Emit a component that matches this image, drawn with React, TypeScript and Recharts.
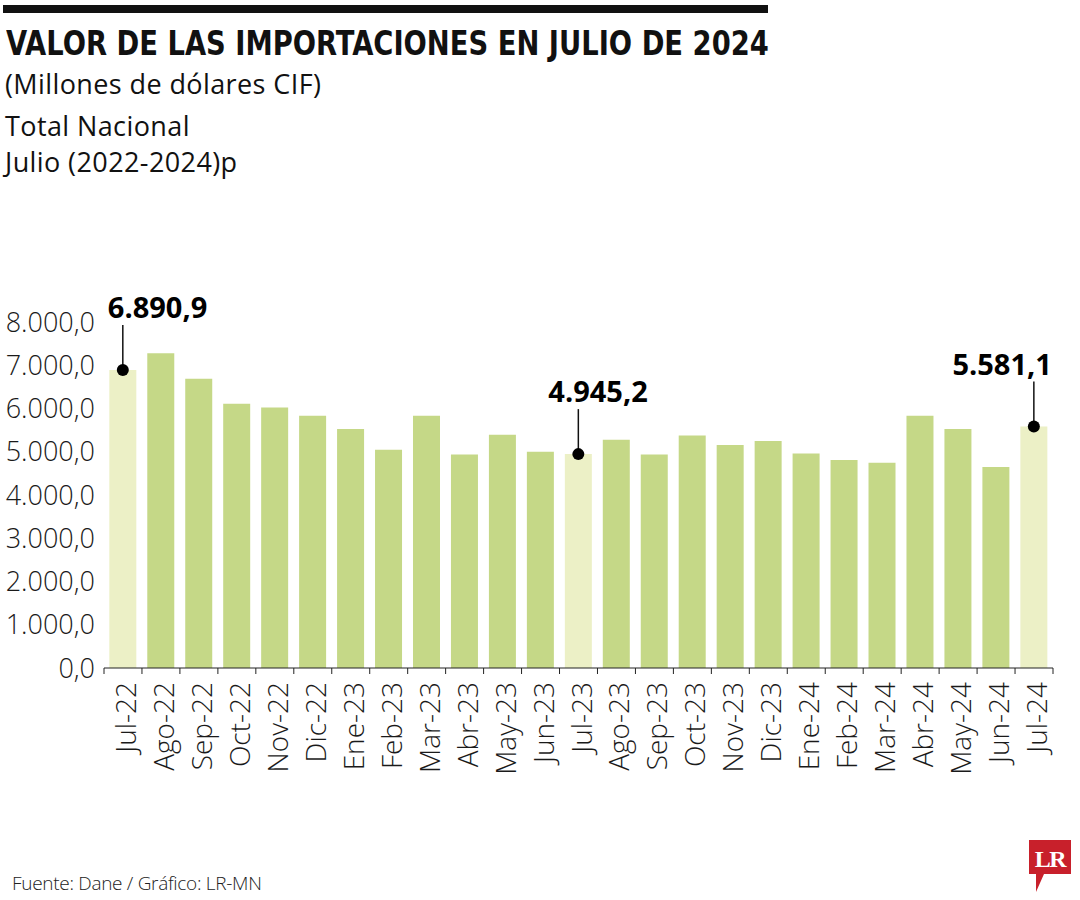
import { BarChart, Bar, XAxis, YAxis, Cell, LabelList } from 'recharts';

// ---------------------------------------------------------------------------
// Data
// ---------------------------------------------------------------------------

const months = [
  'Jul-22', 'Ago-22', 'Sep-22', 'Oct-22', 'Nov-22', 'Dic-22', 'Ene-23',
  'Feb-23', 'Mar-23', 'Abr-23', 'May-23', 'Jun-23', 'Jul-23', 'Ago-23',
  'Sep-23', 'Oct-23', 'Nov-23', 'Dic-23', 'Ene-24', 'Feb-24', 'Mar-24',
  'Abr-24', 'May-24', 'Jun-24', 'Jul-24',
];

const imports = [
  6890.9, 7280, 6690, 6110, 6025, 5833, 5525,
  5046, 5833, 4938, 5394, 5000, 4945.2, 5278,
  4938, 5377, 5155, 5248, 4961, 4808, 4745,
  5833, 5525, 4645, 5581.1,
];

const highlighted = ['Jul-22', 'Jul-23', 'Jul-24'];

const yTicks = [0, 1000, 2000, 3000, 4000, 5000, 6000, 7000, 8000];

// ---------------------------------------------------------------------------
// Layout / styles
// ---------------------------------------------------------------------------

const W = 1080;
const H = 860;
const M = { top: 322, right: 27, left: 0, bottom: 0 };
const Y_AXIS_W = 104;
const BAND = (W - Y_AXIS_W - M.right - M.left) / months.length;

const GREEN = '#c5d887';
const LIGHT = '#ecf0c6';
const LIGHT_FONT = "'Open Sans', sans-serif";

// where the callout text sits relative to the dot
const CALLOUT: Record<string, { dx: number; anchor: 'start' | 'middle' | 'end' }> = {
  'Jul-22': { dx: -15, anchor: 'start' },
  'Jul-23': { dx: -30, anchor: 'start' },
  'Jul-24': { dx: 18, anchor: 'end' },
};

const data = months.map((m, i) => ({ month: m, value: imports[i] }));

function fmt(v: number) {
  const [int, dec] = v.toFixed(1).split('.');
  return int.replace(/\B(?=(\d{3})+(?!\d))/g, '.') + ',' + dec;
}

function MonthTick(props: any) {
  const { x, y, payload, index } = props;
  const half = BAND / 2;
  return (
    <g>
      <line x1={x - half} x2={x - half} y1={y} y2={y + 6} stroke="#222" strokeWidth={1} />
      {index === months.length - 1 && (
        <line x1={x + half} x2={x + half} y1={y} y2={y + 6} stroke="#222" strokeWidth={1} />
      )}
      <text
        transform={`translate(${x + 2},${y + 14}) rotate(-90)`}
        textAnchor="end"
        dominantBaseline="central"
        fill="#1a1a1a"
        fontFamily={LIGHT_FONT}
        fontWeight={300}
        fontSize={28}
      >
        {payload.value}
      </text>
    </g>
  );
}

function Callout(props: any) {
  const { x, y, width, value, index } = props;
  const month = months[index];
  const cfg = CALLOUT[month];
  if (!cfg) return null;
  const cx = x + width / 2;
  return (
    <g>
      <line x1={cx} x2={cx} y1={y} y2={y - 45} stroke="#111" strokeWidth={1.5} />
      <circle cx={cx} cy={y} r={6} fill="#000" />
      <text
        x={cx + cfg.dx}
        y={y - 52}
        textAnchor={cfg.anchor}
        fontFamily={LIGHT_FONT}
        fontWeight={700}
        fontSize={29}
        fill="#000"
      >
        {fmt(value)}
      </text>
    </g>
  );
}

export default function App() {
  return (
    <div style={{ position: 'absolute', left: 0, top: 0, width: 1080, height: 900, background: '#fff' }}>
      <div style={{ position: 'absolute', left: 3, top: 5, width: 765, height: 8, background: '#111' }} />
      <div
        style={{
          position: 'absolute', left: 6, top: 24,
          fontFamily: "'DejaVu Sans Condensed', sans-serif",
          fontWeight: 700, fontSize: 33, color: '#111', whiteSpace: 'nowrap',
          transform: 'scaleX(0.922)', transformOrigin: 'left top',
        }}
      >
        VALOR DE LAS IMPORTACIONES EN JULIO DE 2024
      </div>
      {[
        { t: '(Millones de dólares CIF)', top: 65 },
        { t: 'Total Nacional', top: 107 },
        { t: 'Julio (2022-2024)p', top: 143 },
      ].map((s) => (
        <div
          key={s.t}
          style={{
            position: 'absolute', left: 5, top: s.top,
            fontFamily: LIGHT_FONT, fontSize: 27, color: '#111', whiteSpace: 'nowrap',
            letterSpacing: 0.4,
          }}
        >
          {s.t}
        </div>
      ))}

      <div style={{ position: 'absolute', left: 0, top: 0 }}>
        <BarChart width={W} height={H} data={data} margin={M} barCategoryGap="14%">
          <YAxis
            width={Y_AXIS_W}
            domain={[0, 8000]}
            ticks={yTicks}
            interval={0}
            axisLine={false}
            tickLine={false}
            tickMargin={3}
            tickFormatter={fmt}
            tick={{ fill: '#1a1a1a', fontSize: 27, fontFamily: LIGHT_FONT, fontWeight: 300 }}
          />
          <XAxis
            dataKey="month"
            interval={0}
            height={H - 668}
            tickSize={0}
            tickMargin={0}
            tickLine={false}
            axisLine={{ stroke: '#222', strokeWidth: 1 }}
            tick={<MonthTick />}
          />
          <Bar dataKey="value" isAnimationActive={false}>
            {data.map((d) => (
              <Cell key={d.month} fill={highlighted.includes(d.month) ? LIGHT : GREEN} />
            ))}
            <LabelList dataKey="value" content={<Callout />} />
          </Bar>
        </BarChart>
      </div>

      <div
        style={{
          position: 'absolute', left: 12, top: 870,
          fontFamily: LIGHT_FONT, fontWeight: 300, fontSize: 19, color: '#222',
          whiteSpace: 'nowrap', letterSpacing: -0.3,
        }}
      >
        Fuente: Dane / Gráfico: LR-MN
      </div>

      <svg style={{ position: 'absolute', left: 1028, top: 840 }} width={44} height={54}>
        <path d="M1 0 H43 V34 H16 L8 52 V34 H1 Z" fill="#c8202b" />
        <text
          x={22}
          y={27}
          textAnchor="middle"
          fill="#fff"
          fontFamily="'Liberation Serif', serif"
          fontWeight={700}
          fontSize={24}
          letterSpacing={-1.5}
        >
          LR
        </text>
      </svg>
    </div>
  );
}
